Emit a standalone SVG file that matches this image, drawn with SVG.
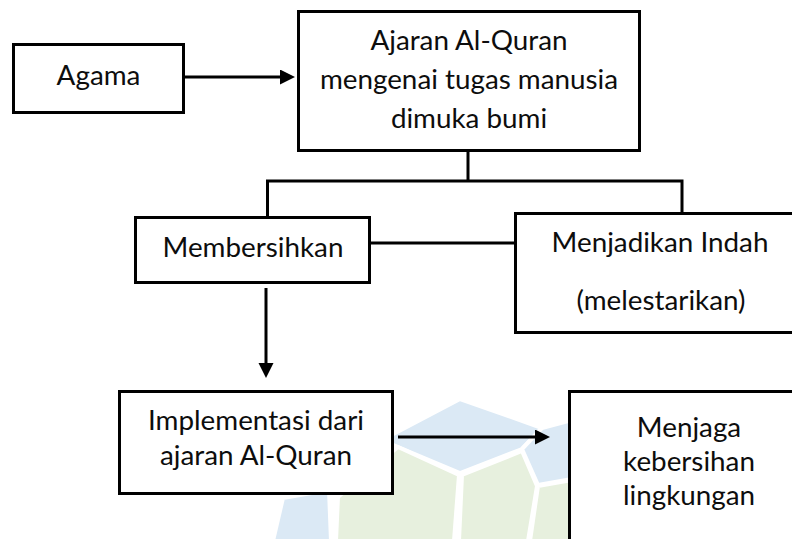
<svg xmlns="http://www.w3.org/2000/svg" width="792" height="539" viewBox="0 0 792 539">
<style>
  .box { fill: #ffffff; stroke: #000000; stroke-width: 3; }
  .conn { fill: none; stroke: #000000; stroke-width: 3; }
  .lbl { font-family: Lato, "Open Sans", "Liberation Sans", sans-serif; font-size: 27.8px; fill: #0d0d0d; text-anchor: middle; }
  .wmb { fill: #dbe9f5; stroke: #ffffff; stroke-width: 4; stroke-linejoin: round; }
  .wmg { fill: #e7f0de; stroke: #ffffff; stroke-width: 4; stroke-linejoin: round; }
</style>
<defs>
  <marker id="arrow" markerUnits="userSpaceOnUse" markerWidth="16" markerHeight="16" refX="1" refY="7.5" orient="auto">
    <path d="M0,0 L15,7.5 L0,15 Z" fill="#000000"/>
  </marker>
</defs>
<rect width="792" height="539" fill="#ffffff"/>
<g id="watermark">
  <polygon class="wmb" points="460,399 542,428 522,449 460,473 398,447 382,440"/>
  <polygon class="wmb" points="542,428 572,420 572,479 538,485 522,449"/>
  <polygon class="wmb" points="283,498 329,490 331,541 273,541"/>
  <polygon class="wmg" points="338,497 398,447 459,475 454,541 336,541"/>
  <polygon class="wmg" points="462,475 522,451 537,486 528,541 459,541"/>
  <polygon class="wmg" points="538,486 572,480 572,541 530,541"/>
</g>
<g id="connectors">
  <line class="conn" x1="184" y1="77" x2="281" y2="77" marker-end="url(#arrow)"/>
  <polyline class="conn" points="468,151 468,181"/>
  <polyline class="conn" points="267.5,217 267.5,181 682,181 682,213"/>
  <line class="conn" x1="370" y1="243" x2="516" y2="243"/>
  <line class="conn" x1="266" y1="288" x2="266" y2="364" marker-end="url(#arrow)"/>
  <line class="conn" x1="398" y1="437" x2="536" y2="437" marker-end="url(#arrow)"/>
</g>
<g id="node-agama">
  <rect class="box" x="13.5" y="44.5" width="170" height="68"/>
  <text class="lbl" x="98.5" y="85">Agama</text>
</g>
<g id="node-ajaran">
  <rect class="box" x="298.5" y="11.5" width="341" height="139"/>
  <text class="lbl" x="469" y="50">Ajaran Al-Quran</text>
  <text class="lbl" x="469" y="89">mengenai tugas manusia</text>
  <text class="lbl" x="469" y="128">dimuka bumi</text>
</g>
<g id="node-membersihkan">
  <rect class="box" x="135.5" y="217.5" width="234" height="65"/>
  <text class="lbl" x="253" y="257">Membersihkan</text>
</g>
<g id="node-menjadikan">
  <rect class="box" x="515.5" y="213.5" width="300" height="119"/>
  <text class="lbl" x="660" y="252">Menjadikan Indah</text>
  <text class="lbl" x="661" y="310">(melestarikan)</text>
</g>
<g id="node-implementasi">
  <rect class="box" x="119.5" y="391.5" width="273" height="102"/>
  <text class="lbl" x="256" y="430">Implementasi dari</text>
  <text class="lbl" x="256" y="465">ajaran Al-Quran</text>
</g>
<g id="node-menjaga">
  <rect class="box" x="569.5" y="391.5" width="250" height="200"/>
  <text class="lbl" x="689" y="437">Menjaga</text>
  <text class="lbl" x="689" y="471">kebersihan</text>
  <text class="lbl" x="689" y="505">lingkungan</text>
</g>
</svg>
